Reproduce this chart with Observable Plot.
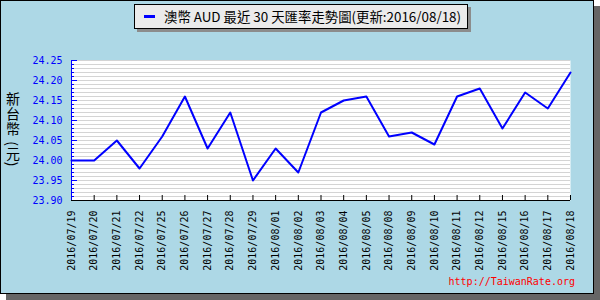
<!DOCTYPE html>
<html>
<head>
<meta charset="utf-8">
<script src="https://cdn.jsdelivr.net/npm/d3@7"></script>
<script src="https://cdn.jsdelivr.net/npm/@observablehq/plot@0.6"></script>
<style>
  html, body { margin: 0; padding: 0; background: #ffffff; }
  #wrap { position: relative; width: 600px; height: 300px; overflow: hidden; background: #ffffff; }
  #box { position: absolute; left: 0; top: 0; width: 592px; height: 292px; background: #add8e6; border: 1px solid #000; box-shadow: 6px 6px 0 #666666; }
  #chart { position: absolute; left: 0; top: 0; }
  #legend { position: absolute; left: 134px; top: 4px; width: 332px; height: 23px; background: #ebebeb; border: 1px solid #000; box-shadow: 3px 3px 0 #8c8c8c; font-family: "Noto Sans CJK TC", sans-serif; font-size: 13.4px; line-height: 23px; color: #000; white-space: nowrap; }
  #legend .sym { position: absolute; left: 9px; top: 10px; width: 11px; height: 3px; background: #0000ff; }
  #legend .txt { position: absolute; left: 29px; top: 0; }
  #url { position: absolute; right: 25px; top: 276px; font-family: "DejaVu Sans Mono", monospace; font-size: 10px; color: #ff0000; }
</style>
</head>
<body>
<div id="wrap">
  <div id="box"></div>
  <div id="chart"></div>
  <div id="legend"><span class="sym"></span><span class="txt" id="legendText"></span></div>
  <div id="url"></div>
</div>
<script>
const titleText = "澳幣 AUD 最近 30 天匯率走勢圖(更新:2016/08/18)";
const yTitleText = "新台幣 (元)";
const urlText = "http://TaiwanRate.org";

const dates = ["2016/07/19","2016/07/20","2016/07/21","2016/07/22","2016/07/25","2016/07/26","2016/07/27","2016/07/28","2016/07/29","2016/08/01","2016/08/02","2016/08/03","2016/08/04","2016/08/05","2016/08/08","2016/08/09","2016/08/10","2016/08/11","2016/08/12","2016/08/15","2016/08/16","2016/08/17","2016/08/18"];
const rates = [24.00,24.00,24.05,23.98,24.06,24.16,24.03,24.12,23.95,24.03,23.97,24.12,24.15,24.16,24.06,24.07,24.04,24.16,24.18,24.08,24.17,24.13,24.22];
const yMajorTicks = [23.90,23.95,24.00,24.05,24.10,24.15,24.20,24.25];
const yMinorTicks = d3.range(0, 36).map(i => +(23.90 + i * 0.01).toFixed(2));
const yDomain = [23.90, 24.25];

const data = dates.map((d, i) => ({date: d, rate: rates[i]}));

const chart = Plot.plot({
  width: 600,
  height: 300,
  marginLeft: 71,
  marginRight: 30,
  marginTop: 60,
  marginBottom: 100,
  style: {background: "transparent", fontFamily: "DejaVu Sans Mono, monospace", fontSize: "10px", overflow: "visible"},
  x: {type: "point", domain: dates, padding: 0, round: false, label: null},
  y: {domain: yDomain, label: null},
  marks: [
    Plot.frame({fill: "white", stroke: "none"}),
    Plot.gridY(yMinorTicks, {stroke: "#d4d4d4", strokeOpacity: 1, strokeWidth: 1}),
    Plot.axisY(yMajorTicks, {anchor: "left", tickSize: 0, tickPadding: 9, fill: "#0000ff", stroke: "none", tickFormat: d => d.toFixed(2), label: null}),
    Plot.axisY(yMajorTicks, {anchor: "left", tickSize: -6, fill: "none", stroke: "#0000ff", label: null}),
    Plot.axisY(yMinorTicks, {anchor: "left", tickSize: -3, fill: "none", stroke: "#0000ff", label: null}),
    Plot.axisX(dates, {anchor: "bottom", tickSize: -5, tickPadding: 15, tickRotate: -90, fill: "#000", stroke: "#000", label: null}),
    Plot.ruleY([yDomain[0]], {stroke: "#000", strokeWidth: 1}),
    Plot.ruleX([dates[0]], {stroke: "#0000ff", strokeWidth: 1}),
    Plot.line(data, {x: "date", y: "rate", stroke: "#0000ff", strokeWidth: 2})
  ]
});
// vertical y-axis title (CJK upright, parentheses rotated)
d3.select(chart).append("text")
  .attr("x", 13)
  .attr("y", 92)
  .attr("fill", "#000")
  .attr("text-anchor", "start")
  .style("writing-mode", "vertical-rl")
  .style("font-family", "'Noto Sans CJK TC', sans-serif")
  .style("font-size", "14px")
  .style("letter-spacing", "1px")
  .text(yTitleText);
document.getElementById("chart").appendChild(chart);
document.getElementById("legendText").textContent = titleText;
document.getElementById("url").textContent = urlText;
</script>
</body>
</html>
